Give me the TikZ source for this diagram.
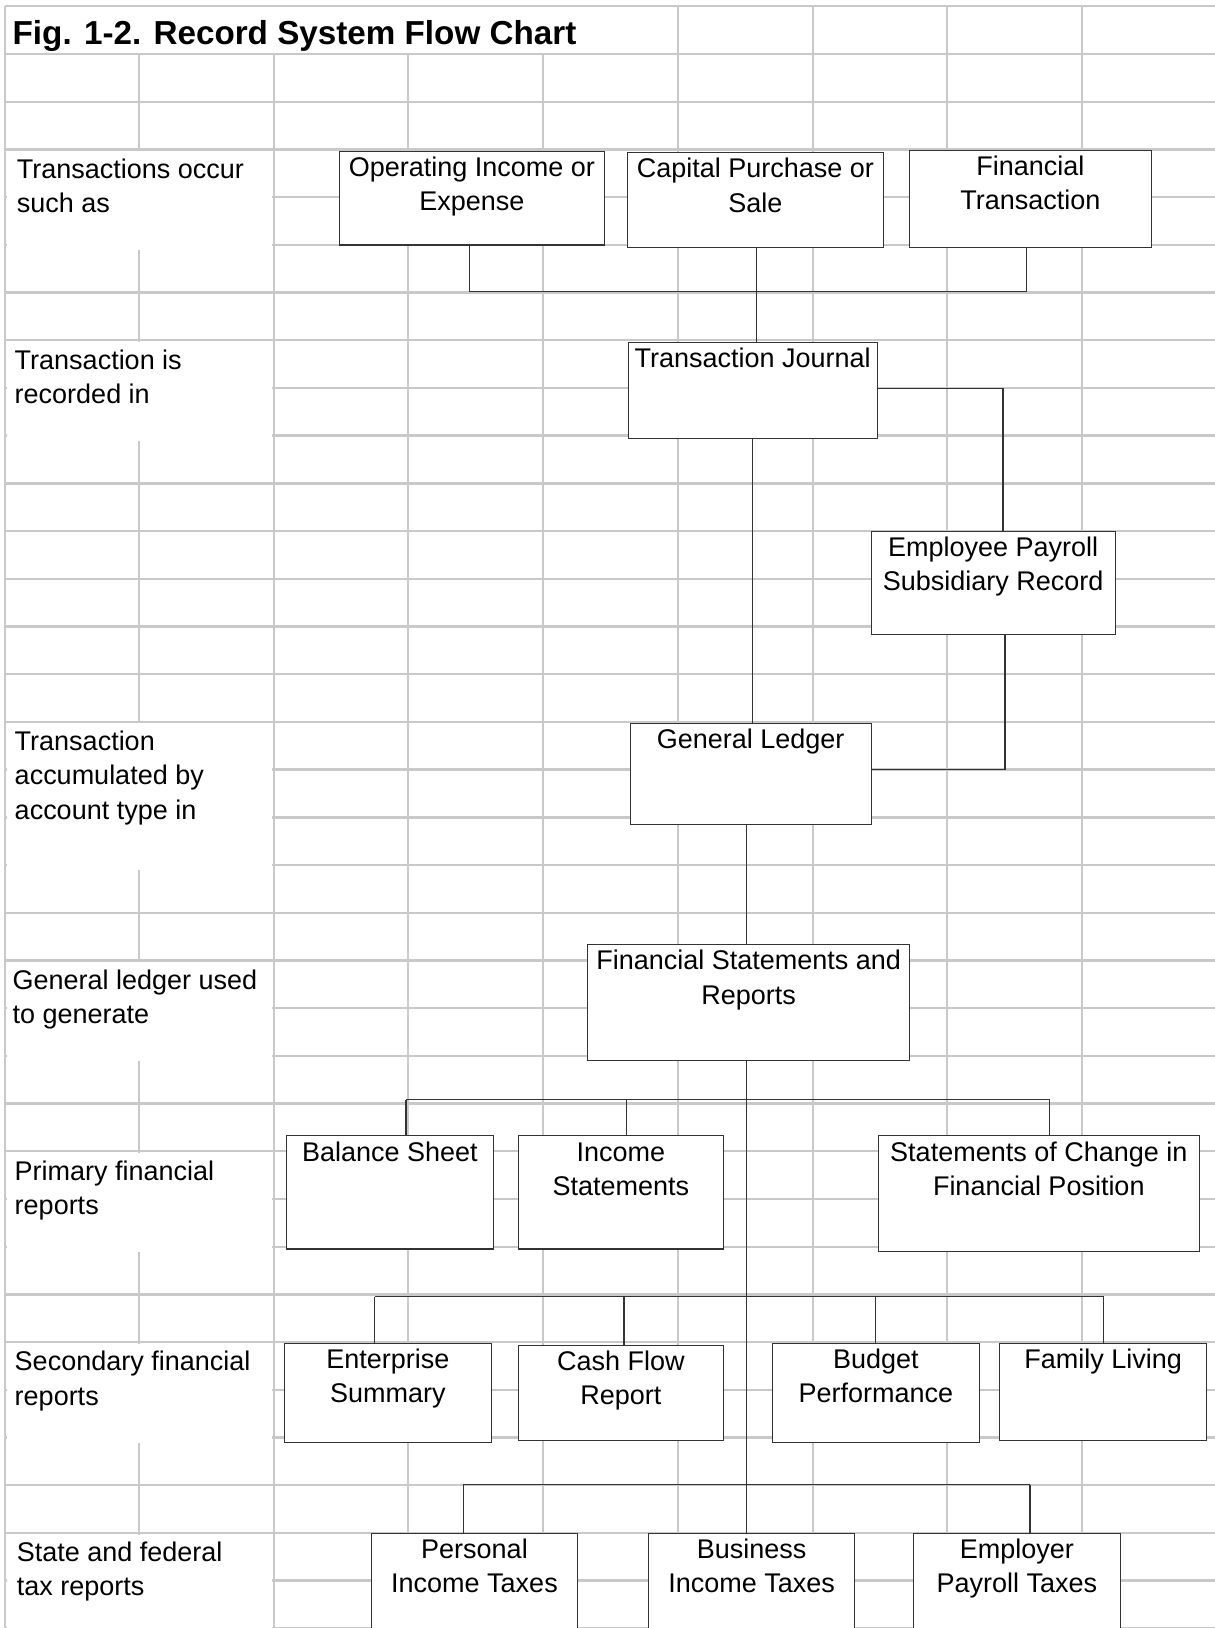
\documentclass[tikz,border=0pt]{standalone}
\usepackage{fontspec}
\setmainfont{Liberation Sans}
\definecolor{gridc}{HTML}{C9C9C9}
\definecolor{linec}{HTML}{333333}
\newcommand\fcbox[6]{%
  \node[box, minimum width={#4-#2}, minimum height={#5-#3}] (#1) at ({(#2+#4)/2},{(#3+#5)/2}) {};
  \node[boxtext] (#1-t) at ({(#2+#4)/2},{#3+3}) {\rule{0pt}{21pt}#6};
}
\begin{document}
\begin{tikzpicture}[x=1pt,y=-1pt,
  gridline/.style={draw=gridc, line width=2.3pt},
  box/.style={draw=linec, fill=white, line width=1.1pt, rectangle, inner sep=0pt},
  boxtext/.style={anchor=north, inner sep=0pt, align=center, font=\fontsize{26}{33}\selectfont},
  lbl/.style={anchor=north west, inner sep=0pt, align=left, font=\fontsize{26}{33}\selectfont},
  conn/.style={draw=linec, line width=1.1pt},
]
\useasboundingbox (0,0) rectangle (1170,1568);
\clip (0,0) rectangle (1170,1568);
\fill[white] (0,0) rectangle (1170,1568);

% ---- spreadsheet grid ----
\foreach \k in {0,...,33} { \draw[gridline] (5,{52+45.95*\k}) -- (1170,{52+45.95*\k}); }
\draw[gridline] (5,6) -- (1170,6);
\draw[gridline] (5,6) -- (5,1568);
\foreach \x in {134,264,393,523} { \draw[gridline] (\x,52) -- (\x,1568); }
\foreach \x in {653,783,912,1042} { \draw[gridline] (\x,6) -- (\x,1568); }
% merged label cells
\foreach \a/\b in {2/4,6/8,14/17,19/21,23/25,27/29,31/33}
  { \fill[white] (7,{52+45.95*\a+1.5}) rectangle (262,{52+45.95*\b+5}); }

% ---- title and row labels ----
\node[anchor=base west, inner sep=0pt, font=\bfseries\fontsize{32}{38}\selectfont] (title) at (12,43) {Fig. 1-2. Record System Flow Chart};
\node[lbl] (l1) at (16,{52+45.95*2+6.5}) {\rule{0pt}{21pt}Transactions occur\\such as};
\node[lbl] (l2) at (14,{52+45.95*6+6.5}) {\rule{0pt}{21pt}Transaction is\\recorded in};
\node[lbl] (l3) at (14,{52+45.95*14+6.5}) {\rule{0pt}{21pt}Transaction\\accumulated by\\account type in};
\node[lbl] (l4) at (12,{52+45.95*19+6.5}) {\rule{0pt}{21pt}General ledger used\\to generate};
\node[lbl] (l5) at (14,{52+45.95*23+6.5}) {\rule{0pt}{21pt}Primary financial\\reports};
\node[lbl] (l6) at (14,{52+45.95*27+6.5}) {\rule{0pt}{21pt}Secondary financial\\reports};
\node[lbl] (l7) at (16,{52+45.95*31+6.5}) {\rule{0pt}{21pt}State and federal\\tax reports};

% ---- boxes ----
\fcbox{op}{327}{146}{582}{236}{Operating Income or\\Expense}
\fcbox{cap}{604}{147}{851}{238}{Capital Purchase or\\Sale}
\fcbox{fin}{876}{145}{1109}{238}{Financial\\Transaction}
\fcbox{tj}{605}{330}{845}{422}{Transaction Journal}
\fcbox{ep}{839}{512}{1074}{611}{Employee Payroll\\Subsidiary Record}
\fcbox{gl}{607}{697}{839}{794}{General Ledger}
\fcbox{fsr}{566}{910}{876}{1021}{Financial Statements and\\Reports}
\fcbox{bs}{276}{1094}{475}{1203}{Balance Sheet}
\fcbox{is}{499}{1094}{697}{1203}{Income\\Statements}
\fcbox{scf}{846}{1094}{1155}{1205}{Statements of Change in\\Financial Position}
\fcbox{es}{274}{1294}{473}{1389}{Enterprise\\Summary}
\fcbox{cf}{499}{1296}{697}{1387}{Cash Flow\\Report}
\fcbox{bp}{744}{1294}{943}{1389}{Budget\\Performance}
\fcbox{fl}{963}{1294}{1162}{1387}{Family Living}
\fcbox{pit}{358}{1477}{556}{1600}{Personal\\Income Taxes}
\fcbox{bit}{625}{1477}{823}{1600}{Business\\Income Taxes}
\fcbox{ept}{880}{1477}{1079}{1600}{Employer\\Payroll Taxes}

% ---- connectors ----
\coordinate (b1L) at (452,281);
\coordinate (b1R) at (989,281);
\draw[conn] (b1L |- op.south) -- (b1L) -- (b1R) -- (b1R |- fin.south);
\coordinate (cx) at (729,0);
\draw[conn] (cx |- cap.south) -- (cx |- tj.north);
\coordinate (j1) at (966,374);
\draw[conn] (tj.east |- j1) -- (j1) -- (j1 |- ep.north);
\coordinate (j2) at (968,741);
\draw[conn] (j2 |- ep.south) -- (j2) -- (j2 -| gl.east);
\draw[conn] (tj.south) -- (tj.south |- gl.north);
\coordinate (sp) at (719,0);
\draw[conn] (sp |- gl.south) -- (sp |- fsr.north);
\draw[conn] (sp |- fsr.south) -- (sp |- bit.north);
% primary bus
\coordinate (pL) at (391,1059);
\coordinate (pM) at (603,1059);
\coordinate (pR) at (1011,1059);
\draw[conn] (pL) -- (pR);
\draw[conn] (pL) -- (pL |- bs.north);
\draw[conn] (pM) -- (pM |- is.north);
\draw[conn] (pR) -- (pR |- scf.north);
% secondary bus
\coordinate (sL) at (361,1249);
\coordinate (sA) at (601,1249);
\coordinate (sB) at (843,1249);
\coordinate (sR) at (1063,1249);
\draw[conn] (sL) -- (sR);
\draw[conn] (sL) -- (sL |- es.north);
\draw[conn] (sA) -- (sA |- cf.north);
\draw[conn] (sB) -- (sB |- bp.north);
\draw[conn] (sR) -- (sR |- fl.north);
% tax bus
\coordinate (tL) at (446,1430);
\coordinate (tR) at (992,1430);
\draw[conn] (tL) -- (tR);
\draw[conn] (tL) -- (tL |- pit.north);
\draw[conn] (tR) -- (tR |- ept.north);
\end{tikzpicture}
\end{document}
